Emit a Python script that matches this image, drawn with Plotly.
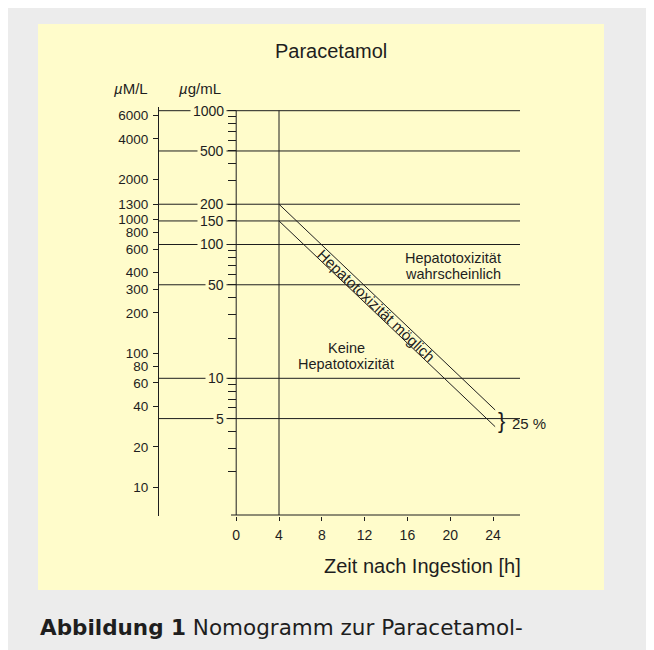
import numpy as np
import plotly.graph_objects as go

# ---------------- data ----------------
time_h = [4, 24.2]                       # Zeit nach Ingestion [h]
upper_line_ug = [200, 5.8]               # obere Linie (µg/mL)
lower_line_ug = [150, 4.35]              # untere Linie, 25 % tiefer (µg/mL)
ug_ref_levels = [1000, 500, 200, 150, 100, 50, 10, 5]
ug_ref_labels = ["1000", "500", "200", "150", "100", "50", "10", "5"]
ug_minor_ticks = [2, 3, 4, 6, 7, 8, 9, 20, 30, 40, 60, 70, 80, 90,
                  300, 400, 600, 700, 800, 900]
um_ticks = [6000, 4000, 2000, 1300, 1000, 800, 600, 400, 300, 200,
            100, 80, 60, 40, 20, 10]
x_ticks = [0, 4, 8, 12, 16, 20, 24]
UG_TO_UM = 6.5                           # µg/mL -> µM/L

# ---------------- geometry (screen pixels, page has 8px body margin) ----------------
W, H = 654, 650
OFF = 8
PLOT_L, PLOT_R, PLOT_T, PLOT_B = 158, 520, 107, 516
X0_PX, PX_PER_H = 236.2, 10.7
Y1000_PX, PX_PER_DEC = 110.7, 133.8
YELLOW = "#fffccb"
GREY = "#ececec"
INK = "#1e1e1e"
FONT = "Liberation Sans, Arial, sans-serif"


def fx(px):
    return (px - OFF) / W


def fy(py):
    return 1 - (py - OFF) / H


def px2h(px):
    return (px - X0_PX) / PX_PER_H


def py2log(py):
    return 3 - (py - Y1000_PX) / PX_PER_DEC


x_range = [px2h(PLOT_L), px2h(PLOT_R)]
y_range = [py2log(PLOT_B), py2log(PLOT_T)]
y2_range = [v + np.log10(UG_TO_UM) for v in y_range]
x_axis_val = 10 ** py2log(515)
x_axis_start = px2h(231)
top_level = max(ug_ref_levels)

fig = go.Figure()

# horizontal reference lines
hx, hy = [], []
for v in ug_ref_levels:
    hx += [x_range[0], x_range[1], None]
    hy += [v, v, None]
fig.add_trace(go.Scatter(x=hx, y=hy, mode="lines",
                         line=dict(color=INK, width=1), hoverinfo="skip"))
# vertical line at 4 h and the µg/mL axis line
fig.add_trace(go.Scatter(x=[time_h[0], time_h[0], None, 0, 0],
                         y=[top_level, x_axis_val, None, top_level, x_axis_val],
                         mode="lines", line=dict(color=INK, width=1),
                         hoverinfo="skip"))
# x axis line
fig.add_trace(go.Scatter(x=[x_axis_start, x_range[1]], y=[x_axis_val, x_axis_val],
                         mode="lines", line=dict(color=INK, width=1),
                         hoverinfo="skip"))
# nomogram lines
fig.add_trace(go.Scatter(x=time_h, y=upper_line_ug, mode="lines",
                         line=dict(color=INK, width=1), hoverinfo="skip"))
fig.add_trace(go.Scatter(x=time_h, y=lower_line_ug, mode="lines",
                         line=dict(color=INK, width=1), hoverinfo="skip"))
# dummy trace for µM/L axis
fig.add_trace(go.Scatter(x=[x_range[0]] * len(um_ticks), y=um_ticks, yaxis="y2",
                         mode="markers", marker=dict(opacity=0),
                         hoverinfo="skip"))

annotations = []
# µg/mL labels masking the lines
for v, lab in zip(ug_ref_levels, ug_ref_labels):
    annotations.append(dict(x=0, y=np.log10(v), xref="x", yref="y", text=lab,
                            showarrow=False, xanchor="right", yanchor="middle",
                            xshift=-9, bgcolor=YELLOW, borderpad=2,
                            font=dict(family=FONT, size=14, color=INK)))

# rotated band label
t_mid = 13.1
log_up = np.interp(t_mid, time_h, np.log10(upper_line_ug))
log_lo = np.interp(t_mid, time_h, np.log10(lower_line_ug))
slope = (np.log10(upper_line_ug[1]) - np.log10(upper_line_ug[0])) / (time_h[1] - time_h[0])
angle = np.degrees(np.arctan(-slope * PX_PER_DEC / PX_PER_H))
annotations.append(dict(x=t_mid, y=(log_up + log_lo) / 2, xref="x", yref="y",
                        text="Hepatotoxizität möglich", showarrow=False,
                        textangle=angle, xanchor="center", yanchor="middle",
                        font=dict(family=FONT, size=15, color=INK)))


def label(px, py, text, size=15, xanchor="center"):
    annotations.append(dict(x=px2h(px), y=py2log(py), xref="x", yref="y",
                            text=text, showarrow=False, xanchor=xanchor,
                            yanchor="middle",
                            font=dict(family=FONT, size=size, color=INK)))


label(452.7, 258.5, "Hepatotoxizität", size=14.5)
label(452.7, 274, "wahrscheinlich", size=14.5)
label(346, 348, "Keine", size=14.5)
label(346, 364, "Hepatotoxizität", size=14.5)
label(501.5, 420, "}", size=22)
label(510, 423, "25 %", xanchor="left")


def plabel(px, py, text, size, xanchor="center", family=FONT):
    annotations.append(dict(x=fx(px), y=fy(py), xref="paper", yref="paper",
                            text=text, showarrow=False, xanchor=xanchor,
                            yanchor="middle",
                            font=dict(family=family, size=size, color=INK)))


plabel(331, 51, "Paracetamol", 20)
plabel(131, 89, "<i>µ</i>M/L", 15)
plabel(200, 89, "<i>µ</i>g/mL", 15)
plabel(523, 566, "Zeit nach Ingestion [h]", 20, xanchor="right")
plabel(38, 627, "<b>Abbildung 1</b> Nomogramm zur Paracetamol-", 21.5,
       xanchor="left", family="DejaVu Sans, sans-serif")

shapes = [
    dict(type="rect", xref="paper", yref="paper", x0=fx(38), x1=fx(604),
         y0=fy(590), y1=fy(24), fillcolor=YELLOW, line=dict(width=0),
         layer="below"),
]

fig.update_layout(
    width=W, height=H,
    margin=dict(l=0, r=0, t=0, b=0, pad=0),
    paper_bgcolor=GREY, plot_bgcolor="rgba(0,0,0,0)",
    showlegend=False,
    shapes=shapes, annotations=annotations,
    xaxis=dict(domain=[fx(PLOT_L), fx(PLOT_R)], range=x_range,
               tickvals=x_ticks, ticktext=[str(t) for t in x_ticks],
               ticks="outside", ticklen=4, tickcolor=INK, tickwidth=1,
               showline=False, showgrid=False, zeroline=False,
               tickfont=dict(family=FONT, size=14, color=INK),
               ticklabelstandoff=2, anchor="y"),
    yaxis=dict(domain=[fy(PLOT_B), fy(PLOT_T)], type="log",
               range=y_range, anchor="free", position=fx(X0_PX),
               tickvals=ug_minor_ticks + ug_ref_levels,
               ticks="outside", ticklen=8, tickcolor=INK, tickwidth=1,
               showticklabels=False, showline=False, showgrid=False,
               zeroline=False),
    yaxis2=dict(domain=[fy(PLOT_B), fy(PLOT_T)], type="log",
                range=y2_range, overlaying="y", anchor="free",
                position=fx(PLOT_L), side="left",
                tickvals=um_ticks, ticktext=[str(t) for t in um_ticks],
                ticks="outside", ticklen=5, tickcolor=INK, tickwidth=1,
                showline=True, linecolor=INK, linewidth=1,
                showgrid=False, zeroline=False,
                tickfont=dict(family=FONT, size=13.5, color=INK),
                ticklabelstandoff=2),
)

fig.write_html("out.html")
